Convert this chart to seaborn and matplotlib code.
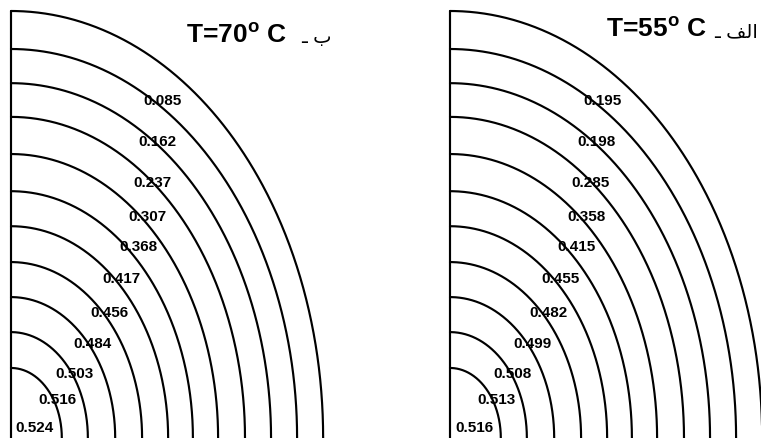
import numpy as np
import pandas as pd
import matplotlib
matplotlib.use("Agg")
import matplotlib.pyplot as plt
import seaborn as sns

# Panel temperatures (deg C) and Persian panel tags, written in display order
temperatures = [70, 55]
panel_tags = ["\u0640 \uFE8F", "\u0640 \uFED2\uFEDF\uFE8D"]

# Contour values, from the second curve inwards, plus the value at the centre
levels_70 = [0.085, 0.162, 0.237, 0.307, 0.368, 0.417, 0.456, 0.484, 0.503, 0.516]
center_70 = 0.524
levels_55 = [0.195, 0.198, 0.285, 0.358, 0.415, 0.455, 0.482, 0.499, 0.508, 0.513]
center_55 = 0.516

# Semi-axes of every curve (outer boundary first), relative to the boundary height
contour_height = [1.000, 0.911, 0.831, 0.752, 0.665, 0.578, 0.496, 0.412, 0.330, 0.248, 0.164]
contour_width = [0.731, 0.670, 0.609, 0.548, 0.485, 0.426, 0.368, 0.307, 0.244, 0.180, 0.119]

panel_levels = [levels_70, levels_55]
panel_centers = [center_70, center_55]

# ---- styling / layout ----
sns.set_style("white")
plt.rcParams["font.family"] = ["Liberation Sans", "DejaVu Sans"]
plt.rcParams["text.color"] = "black"
plt.rcParams["mathtext.fontset"] = "custom"
plt.rcParams["mathtext.rm"] = "Liberation Sans:bold"
plt.rcParams["mathtext.it"] = "Liberation Sans:bold"
plt.rcParams["mathtext.bf"] = "Liberation Sans:bold"

scale = 427.0   # pixels per unit height
# label centres (pixels right of the axis, pixels above the base), boundary excluded
label_px = [(152, 338), (146, 297), (141, 256), (136, 222), (127, 192),
            (110, 160), (98, 126), (82, 95), (63, 65), (46, 39)]
center_px = (24, 11)


def contour_path(width, height, n=400):
    t = np.linspace(0.0, np.pi / 2, n)
    return width * np.cos(t), height * np.sin(t)


rows = []
for i, (w, h) in enumerate(zip(contour_width, contour_height)):
    x, y = contour_path(w, h)
    rows.append(pd.DataFrame({"x": x, "y": y, "curve": i}))
rows.append(pd.DataFrame({"x": [0.0, 0.0], "y": [0.0, contour_height[0]], "curve": -1}))
curves = pd.concat(rows, ignore_index=True)

fig = plt.figure(figsize=(7.61, 4.39), dpi=100)
panel_left_px = [0, 439]
title_pos = [(0.646, 0.927, 0.680), (0.602, 0.941, 0.618)]

for k in range(2):
    ax = fig.add_axes([panel_left_px[k] / 761, 0, 439 / 761, 1])
    ax.patch.set_alpha(0)
    sns.lineplot(data=curves, x="x", y="y", units="curve", estimator=None,
                 sort=False, color="black", linewidth=1.55, ax=ax, legend=False)
    ax.set_xlim(-11 / scale, 428 / scale)
    ax.set_ylim(0, 439 / scale)
    ax.set_axis_off()

    for (px, py), val in zip(label_px, panel_levels[k]):
        ax.text(px / scale, py / scale, f"{val:.3f}", ha="center", va="center",
                fontsize=11, fontweight="bold", color="black")
    ax.text(center_px[0] / scale, center_px[1] / scale, f"{panel_centers[k]:.3f}",
            ha="center", va="center", fontsize=11, fontweight="bold", color="black")

    tx, ty, tag_x = title_pos[k]
    ax.text(tx, ty, f"T={temperatures[k]}$^{{\\mathrm{{o}}}}$ C", ha="right",
            va="baseline", fontsize=19, fontweight="bold", color="black")
    ax.text(tag_x, ty, panel_tags[k], ha="left", va="baseline", fontsize=14,
            family="DejaVu Sans", color="black")

fig.savefig("out.png", dpi=100, facecolor="white")
